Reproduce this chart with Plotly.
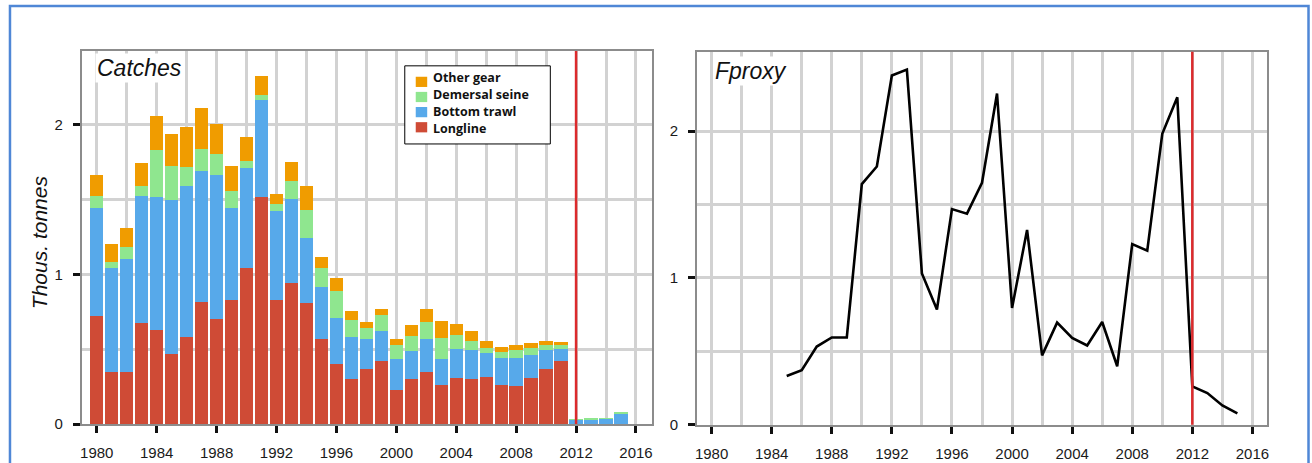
import plotly.graph_objects as go

# ---- data ---------------------------------------------------------------
years = list(range(1980, 2016))

gear_names = ["Longline", "Bottom trawl", "Demersal seine", "Other gear"]
gear_colors = ["#cf4b36", "#57a9ea", "#8fe68f", "#f09c00"]

longline = [0.72, 0.35, 0.345, 0.675, 0.627, 0.467, 0.579, 0.817, 0.699, 0.828,
            1.041, 1.515, 0.828, 0.941, 0.806, 0.57, 0.40, 0.302, 0.368, 0.422,
            0.23, 0.302, 0.346, 0.258, 0.307, 0.302, 0.313, 0.263, 0.254, 0.307,
            0.368, 0.422, 0.0, 0.0, 0.0, 0.0]
bottom_trawl = [0.725, 0.69, 0.755, 0.847, 0.888, 1.026, 1.008, 0.873, 0.965, 0.617,
                0.671, 0.647, 0.596, 0.563, 0.439, 0.347, 0.311, 0.28, 0.197, 0.197,
                0.203, 0.186, 0.219, 0.175, 0.192, 0.192, 0.16, 0.177, 0.186, 0.153,
                0.124, 0.077, 0.028, 0.032, 0.035, 0.07]
demersal_seine = [0.075, 0.045, 0.083, 0.065, 0.317, 0.23, 0.127, 0.144, 0.142, 0.11,
                  0.046, 0.032, 0.043, 0.116, 0.183, 0.124, 0.175, 0.114, 0.076, 0.11,
                  0.094, 0.098, 0.116, 0.143, 0.094, 0.059, 0.037, 0.041, 0.052, 0.045,
                  0.033, 0.028, 0.004, 0.004, 0.004, 0.007]
other_gear = [0.144, 0.115, 0.125, 0.158, 0.225, 0.214, 0.266, 0.277, 0.196, 0.17,
              0.161, 0.129, 0.072, 0.127, 0.159, 0.077, 0.091, 0.059, 0.04, 0.039,
              0.038, 0.072, 0.087, 0.109, 0.075, 0.066, 0.043, 0.033, 0.033, 0.033,
              0.028, 0.022, 0.0, 0.0, 0.0, 0.0]

fproxy_years = list(range(1985, 2016))
fproxy = [0.332, 0.372, 0.533, 0.595, 0.595, 1.639, 1.759, 2.379, 2.419, 1.030,
          0.785, 1.469, 1.438, 1.648, 2.256, 0.796, 1.327, 0.473, 0.696, 0.591,
          0.540, 0.700, 0.399, 1.231, 1.186, 1.982, 2.230, 0.261, 0.216, 0.132,
          0.078]

assessment_year = 2012

x_tick_years = list(range(1980, 2017, 4))
x_minor_years = list(range(1982, 2016, 4))
y_ticks = [0, 1, 2]
y_minor = [0.5, 1.5]

# ---- figure -------------------------------------------------------------
W, H = 1312, 463
TICK_FONT = dict(family="Liberation Sans, Arial, sans-serif", size=15, color="#1a1a1a")
GRID = "#d2d2d2"
FRAME = "#8c8c8c"

fig = go.Figure()

gear_series = [longline, bottom_trawl, demersal_seine, other_gear]
for name, color, vals in zip(gear_names, gear_colors, gear_series):
    fig.add_trace(go.Bar(
        x=years, y=vals, name=name, width=0.89,
        marker=dict(color=color, line=dict(width=0)),
        xaxis="x", yaxis="y", showlegend=False,
    ))

fig.add_trace(go.Scatter(
    x=fproxy_years, y=fproxy, mode="lines", name="Fproxy",
    line=dict(color="black", width=2.6),
    xaxis="x2", yaxis="y2", showlegend=False,
))


def px_x(p):
    return p / W


def px_y(p):
    return (H - p) / H


def x_axis(domain, rng, anchor):
    return dict(
        domain=domain, range=rng, anchor=anchor,
        tickmode="array", tickvals=x_tick_years, ticktext=[str(v) for v in x_tick_years],
        ticks="outside", ticklen=7, tickwidth=3, tickcolor="#111",
        showgrid=True, gridcolor=GRID, gridwidth=2.5,
        minor=dict(tickmode="array", tickvals=x_minor_years, showgrid=True,
                   gridcolor=GRID, gridwidth=2.5, ticks=""),
        showline=True, linecolor=FRAME, linewidth=2, mirror=True,
        zeroline=False, tickfont=TICK_FONT, ticklabelstandoff=7,
        fixedrange=True,
    )


def y_axis(domain, rng, anchor):
    return dict(
        domain=domain, range=rng, anchor=anchor,
        tickmode="array", tickvals=y_ticks, ticktext=[str(v) for v in y_ticks],
        ticks="outside", ticklen=7, tickwidth=3, tickcolor="#111",
        showgrid=True, gridcolor=GRID, gridwidth=2.5,
        minor=dict(tickmode="array", tickvals=y_minor, showgrid=True,
                   gridcolor=GRID, gridwidth=2.5, ticks=""),
        showline=True, linecolor=FRAME, linewidth=2, mirror=True,
        zeroline=False, tickfont=TICK_FONT, ticklabelstandoff=7,
        fixedrange=True,
    )


fig.update_layout(
    width=W, height=H,
    margin=dict(l=0, r=0, t=0, b=0),
    paper_bgcolor="white", plot_bgcolor="white",
    barmode="stack", bargap=0.1,
    xaxis=x_axis([px_x(80), px_x(652)], [1979.0, 2017.07], "y"),
    yaxis=y_axis([px_y(431.5), px_y(52)], [0, 2.49], "x"),
    xaxis2=x_axis([px_x(697.3), px_x(1269.3)], [1979.04, 2017.0], "y2"),
    yaxis2=y_axis([px_y(432.3), px_y(52.7)], [0, 2.54], "x2"),
)

# assessment year markers
for xr, yr in (("x", "y"), ("x2", "y2")):
    fig.add_shape(type="line", xref=xr, yref=f"{yr} domain",
                  x0=assessment_year, x1=assessment_year, y0=0, y1=1,
                  line=dict(color="#dc2a2c", width=2.5))

# outer blue frame
fig.add_shape(type="rect", xref="paper", yref="paper",
              x0=px_x(8), x1=px_x(1310.5), y0=-0.2, y1=px_y(6),
              line=dict(color="#4f87d6", width=2.5), fillcolor="rgba(0,0,0,0)")

# panel titles
TITLE_FONT = dict(family="Liberation Sans, Arial, sans-serif", size=23, color="#111")
fig.add_annotation(text="<i>Catches</i>", xref="paper", yref="paper",
                   x=px_x(137.5), y=px_y(69.5), xanchor="center", yanchor="middle",
                   showarrow=False, font=TITLE_FONT, bgcolor="white", borderpad=1)
fig.add_annotation(text="<i>Fproxy</i>", xref="paper", yref="paper",
                   x=px_x(751), y=px_y(72), xanchor="center", yanchor="middle",
                   showarrow=False, font=TITLE_FONT, bgcolor="white", borderpad=1)

# y-axis title
fig.add_annotation(text="<i>Thous. tonnes</i>", xref="paper", yref="paper",
                   x=px_x(37.5), y=px_y(246), xanchor="center", yanchor="middle",
                   textangle=-90, showarrow=False,
                   font=dict(family="Liberation Sans, Arial, sans-serif", size=21, color="#111"))

# gear legend (top entry = top of the stack)
LEG_L, LEG_R, LEG_T, LEG_B = 404, 550, 67, 146.5
fig.add_shape(type="rect", xref="paper", yref="paper",
              x0=px_x(LEG_L), x1=px_x(LEG_R), y0=px_y(LEG_B), y1=px_y(LEG_T),
              line=dict(color="black", width=1), fillcolor="white")
LEG_FONT = dict(family="Open Sans, sans-serif", size=12.5, color="#111", weight="bold")
for i, (name, color) in enumerate(zip(gear_names[::-1], gear_colors[::-1])):
    sq_c = 83.3 + i * 15.4
    fig.add_shape(type="rect", xref="paper", yref="paper",
                  x0=px_x(415), x1=px_x(426.5), y0=px_y(sq_c + 5.2), y1=px_y(sq_c - 5.2),
                  line=dict(width=0), fillcolor=color)
    fig.add_annotation(text=name, xref="paper", yref="paper",
                       x=px_x(430), y=px_y(79 + i * 17.3), xanchor="left", yanchor="middle",
                       showarrow=False, font=LEG_FONT)

fig.write_html("out.html")
